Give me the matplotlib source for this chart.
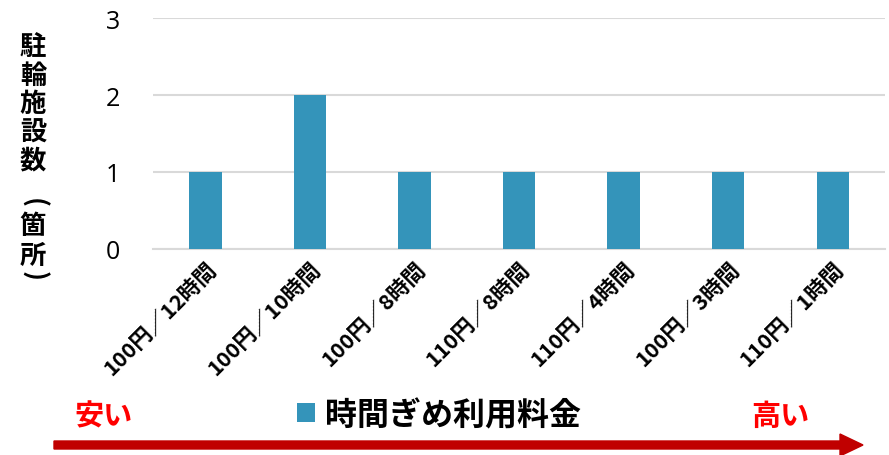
import matplotlib
matplotlib.use("Agg")
import matplotlib.pyplot as plt
from matplotlib.patches import FancyArrow

plt.rcParams['font.family'] = ['Noto Sans CJK JP', 'DejaVu Sans']

categories = ["100円／12時間", "100円／10時間", "100円／8時間", "110円／8時間",
              "110円／4時間", "100円／3時間", "110円／1時間"]
counts = [1, 2, 1, 1, 1, 1, 1]
y_ticks = [0, 1, 2, 3]
ylabel_chars = ["駐", "輪", "施", "設", "数", "(", "箇", "所", ")"]
series_name = "時間ぎめ利用料金"

bar_color = "#3494BA"
grid_color = "#D9D9D9"

fig = plt.figure(figsize=(8.89, 4.56), dpi=100)
ax = fig.add_axes([0.1723, 0.4518, 0.8232, 0.5065])

x = list(range(len(categories)))
bars = ax.bar(x, counts, width=0.31, color=bar_color, label=series_name, zorder=3)

ax.set_xlim(-0.5, len(categories) - 0.5)
ax.set_ylim(0, 3)
ax.set_yticks(y_ticks)
ax.set_yticklabels([str(v) for v in y_ticks], fontsize=18, family=['Open Sans', 'DejaVu Sans'])
ax.yaxis.grid(True, color=grid_color, linewidth=1.5, zorder=0)
ax.tick_params(axis='y', length=0, pad=24)
ax.tick_params(axis='x', length=0, pad=6)
ax.set_xticks(x)
ax.set_xticklabels(categories, rotation=45, ha='right', rotation_mode='anchor',
                   fontsize=15.5, fontweight='bold')
for side in ['top', 'right', 'left']:
    ax.spines[side].set_visible(False)
ax.spines['bottom'].set_color(grid_color)
ax.spines['bottom'].set_linewidth(1.5)

# vertical y label, one character per line; brackets turned for vertical writing
centers = [48, 76, 104, 133, 161, 203, 227, 256, 276]
for ch, cy in zip(ylabel_chars, centers):
    rot = -90 if ch in "()" else 0
    fig.text(33 / 889, 1 - cy / 456, ch, fontsize=19, fontweight='bold',
             ha='center', va='center', rotation=rot)

# legend
leg = fig.legend(handles=[bars], labels=[series_name], loc='center',
                 bbox_to_anchor=(439 / 889, 1 - 416 / 456), frameon=False,
                 prop={'size': 23, 'weight': 'bold'}, handlelength=0.55,
                 handleheight=0.55, handletextpad=0.3, borderpad=0)

fig.text(104 / 889, 1 - 416 / 456, "安い", color="#FF0000", fontsize=21,
         fontweight='bold', ha='center', va='center')
fig.text(780 / 889, 1 - 416 / 456, "高い", color="#FF0000", fontsize=21,
         fontweight='bold', ha='center', va='center')

arrow = FancyArrow(0.54, 0.10, 8.09, 0, width=0.08, head_width=0.22, head_length=0.23,
                   length_includes_head=True, color="#C00000",
                   transform=fig.dpi_scale_trans)
fig.patches.append(arrow)

fig.savefig("out.png", dpi=100)
